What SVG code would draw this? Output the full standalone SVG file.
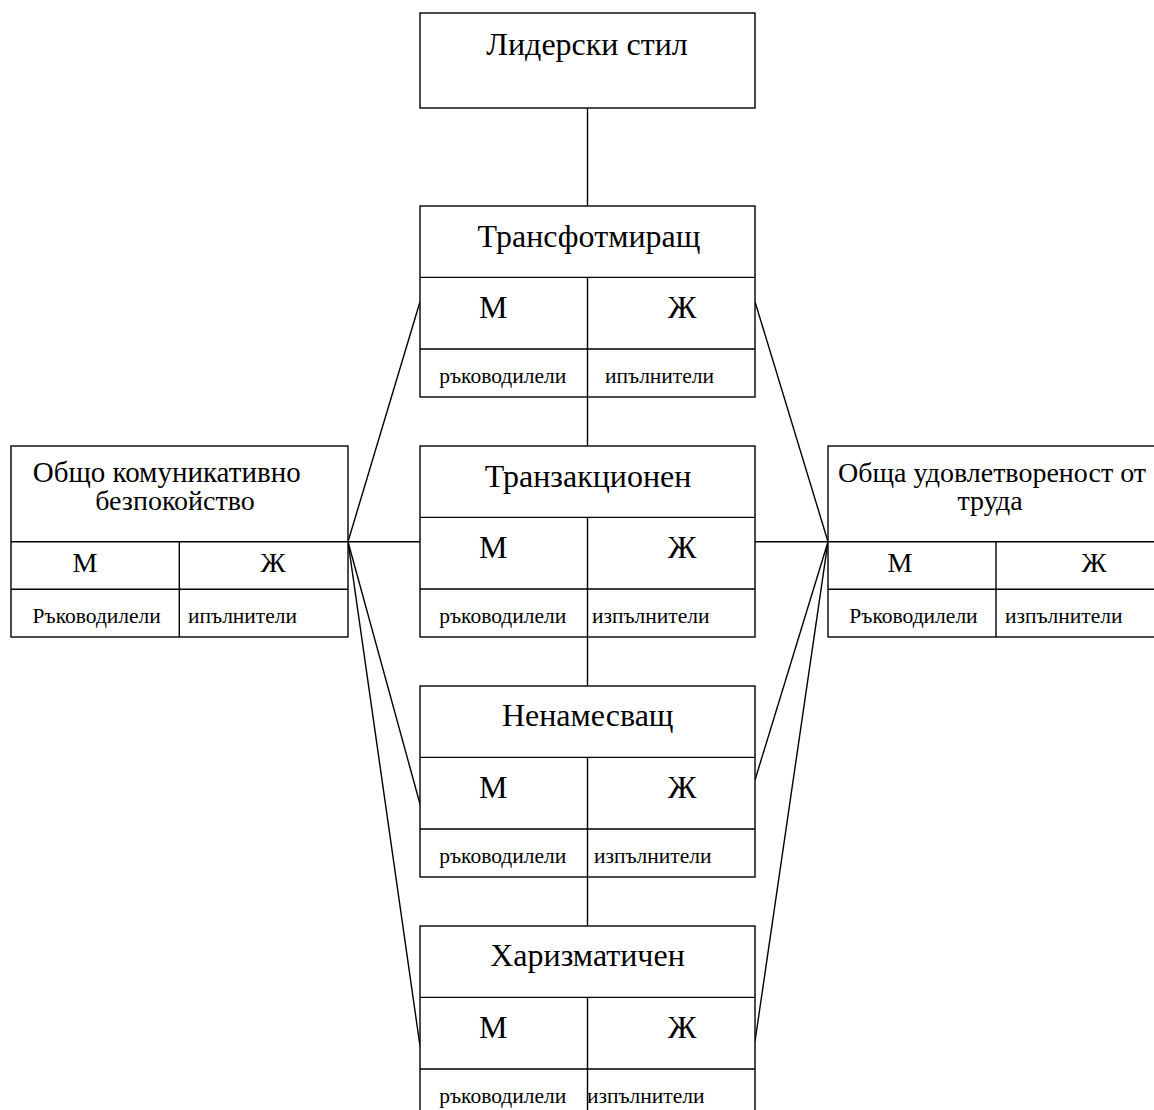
<svg xmlns="http://www.w3.org/2000/svg" width="1154" height="1110" viewBox="0 0 1154 1110">
<style>
.b{fill:#fff;stroke:#000;stroke-width:1.4}
.l{stroke:#000;stroke-width:1.4;fill:none}
text{font-family:"Liberation Serif","Times New Roman",serif;fill:#000}
.t{font-size:32px;text-anchor:middle}
.s{font-size:28px;text-anchor:middle}
.m{font-size:21.5px;text-anchor:middle}
.ms{font-size:21.5px}
</style>
<rect width="1154" height="1110" fill="#fff"/>
<g id="connectors" class="l">
<line x1="587.5" y1="108" x2="587.5" y2="206"/>
<line x1="587.5" y1="397" x2="587.5" y2="446"/>
<line x1="587.5" y1="637" x2="587.5" y2="686"/>
<line x1="587.5" y1="877" x2="587.5" y2="926"/>
<line x1="348" y1="541.7" x2="420" y2="301.7"/>
<line x1="348" y1="541.7" x2="420" y2="541.7"/>
<line x1="348" y1="541.7" x2="420" y2="804"/>
<line x1="348" y1="541.7" x2="420" y2="1046"/>
<line x1="828" y1="541.7" x2="755" y2="301.7"/>
<line x1="828" y1="541.7" x2="755" y2="541.7"/>
<line x1="828" y1="541.7" x2="755" y2="780"/>
<line x1="828" y1="541.7" x2="755" y2="1041.5"/>
</g>
<g id="lider">
<rect class="b" x="420" y="13" width="335" height="95"/>
<text class="t" x="587" y="55">Лидерски стил</text>
</g>
<g id="transform">
<rect class="b" x="420" y="206" width="335" height="191"/>
<path class="l" d="M420 277.4H755M420 349H755M587.5 277.4V397"/>
<text class="t" x="589" y="246.5">Трансфотмиращ</text>
<text class="t" x="493.3" y="318">М</text>
<text class="t" x="682" y="318">Ж</text>
<text class="m" x="502.7" y="383">ръководилели</text>
<text class="ms" x="605" y="383">ипълнители</text>
</g>
<g id="transakcionen">
<rect class="b" x="420" y="446" width="335" height="191"/>
<path class="l" d="M420 517.4H755M420 589H755M587.5 517.4V637"/>
<text class="t" x="588" y="486.5">Транзакционен</text>
<text class="t" x="493.3" y="558">М</text>
<text class="t" x="682" y="558">Ж</text>
<text class="m" x="502.7" y="623">ръководилели</text>
<text class="ms" x="592" y="623">изпълнители</text>
</g>
<g id="nenamesvasht">
<rect class="b" x="420" y="686" width="335" height="191"/>
<path class="l" d="M420 757.4H755M420 829H755M587.5 757.4V877"/>
<text class="t" x="587.7" y="726">Ненамесващ</text>
<text class="t" x="493.3" y="798">М</text>
<text class="t" x="682" y="798">Ж</text>
<text class="m" x="502.7" y="863">ръководилели</text>
<text class="ms" x="594" y="863">изпълнители</text>
</g>
<g id="harizmatichen">
<rect class="b" x="420" y="926" width="335" height="191"/>
<path class="l" d="M420 997.4H755M420 1069H755M587.5 997.4V1117"/>
<text class="t" x="587.5" y="966">Харизматичен</text>
<text class="t" x="493.3" y="1038">М</text>
<text class="t" x="682" y="1038">Ж</text>
<text class="m" x="502.7" y="1103">ръководилели</text>
<text class="ms" x="587" y="1103">изпълнители</text>
</g>
<g id="bezpokoistvo">
<rect class="b" x="11" y="446" width="337" height="191"/>
<path class="l" d="M11 541.7H348M11 589.3H348M179.3 541.7V637"/>
<text class="s" x="166.7" y="481.7" style="font-size:29px">Общо комуникативно</text>
<text class="s" x="175" y="510">безпокойство</text>
<text class="s" x="85" y="572">М</text>
<text class="s" x="273" y="572">Ж</text>
<text class="m" x="96.7" y="623">Ръководилели</text>
<text class="ms" x="188" y="623">ипълнители</text>
</g>
<g id="udovletvorenost">
<rect class="b" x="828" y="446" width="337" height="191"/>
<path class="l" d="M828 541.7H1165M828 589.3H1165M996 541.7V637"/>
<text class="s" x="992" y="481.7">Обща удовлетвореност от</text>
<text class="s" x="990" y="510">труда</text>
<text class="s" x="900" y="572">М</text>
<text class="s" x="1094" y="572">Ж</text>
<text class="m" x="913.5" y="623">Ръководилели</text>
<text class="ms" x="1005" y="623">изпълнители</text>
</g>
</svg>
